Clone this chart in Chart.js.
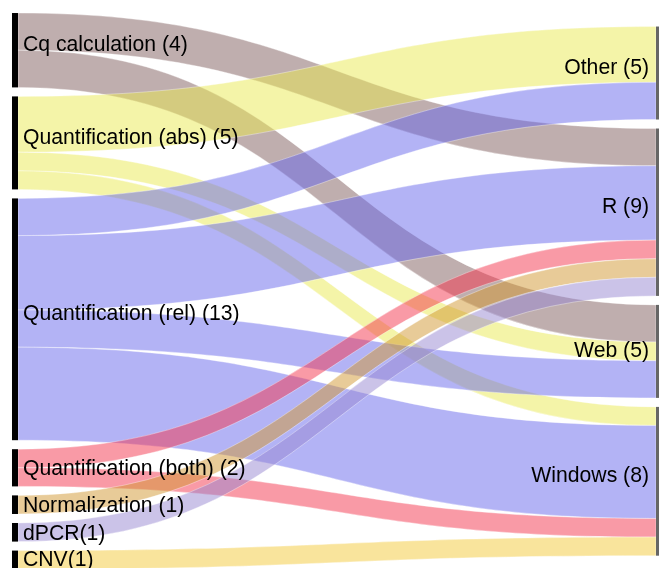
<!DOCTYPE html>
<html>
<head>
<meta charset="utf-8">
<script src="https://cdn.jsdelivr.net/npm/chart.js@4"></script>
<style>
html, body { margin: 0; padding: 0; background: #fff; }
#wrap { width: 659px; height: 568px; }
</style>
</head>
<body>
<div id="wrap"><canvas id="sankeyChart"></canvas></div>
<script>
// left column (sources) and right column (targets)
const sources = ['Cq calculation (4)', 'Quantification (abs) (5)', 'Quantification (rel) (13)',
    'Quantification (both) (2)', 'Normalization (1)', 'dPCR(1)', 'CNV(1)'];
const targets = ['Other (5)', 'R (9)', 'Web (5)', 'Windows (8)'];

// flow values, one entry per source, in the order of `sources`
const toOther   = [0, 3, 2, 0, 0, 0, 0];
const toR       = [2, 0, 4, 1, 1, 1, 0];
const toWeb     = [2, 1, 2, 0, 0, 0, 0];
const toWindows = [0, 1, 5, 1, 0, 0, 1];
const flows = [toOther, toR, toWeb, toWindows];

const linkColors = [
    'rgba(127, 93, 93, 0.5)',
    'rgba(233, 233, 81, 0.5)',
    'rgba(103, 103, 235, 0.5)',
    'rgba(243, 53, 77, 0.5)',
    'rgba(209, 151, 49, 0.5)',
    'rgba(151, 135, 209, 0.5)',
    'rgba(243, 201, 57, 0.5)'
];

// some labels sit a little lower than their node's centre
const labelNudge = { 'Quantification (both) (2)': 7, 'Normalization (1)': 7, 'dPCR(1)': 7.5, 'CNV(1)': 6, 'Web (5)': 6 };

const nodeGap = 0.484;
const topOffset = 0.7;

// --- layout (in value units) ---
const srcTotals = sources.map((_, i) => flows.reduce((s, f) => s + f[i], 0));
const tgtTotals = flows.map(f => f.reduce((s, v) => s + v, 0));
const span = arr => arr.reduce((s, v) => s + v, 0) + (arr.length - 1) * nodeGap;

function stack(totals, start) {
    let y = start;
    return totals.map(t => {
        const n = { y0: y, y1: y + t };
        y += t + nodeGap;
        return n;
    });
}
const leftNodes = stack(srcTotals, topOffset);
const rightNodes = stack(tgtTotals, topOffset + (span(srcTotals) - span(tgtTotals)) / 2);

// links: source side stacked in target order, target side stacked in source order
const links = [];
const srcUsed = leftNodes.map(n => n.y0);
sources.forEach((_, i) => {
    targets.forEach((_, j) => {
        const v = flows[j][i];
        if (!v) return;
        links.push({ src: i, tgt: j, v: v, s0: srcUsed[i], s1: srcUsed[i] + v });
        srcUsed[i] += v;
    });
});
const tgtUsed = rightNodes.map(n => n.y0);
links.forEach(l => {
    l.t0 = tgtUsed[l.tgt];
    l.t1 = l.t0 + l.v;
    tgtUsed[l.tgt] += l.v;
});

const sankeyPlugin = {
    id: 'sankey',
    afterDraw(chart) {
        const { ctx, scales: { x, y } } = chart;
        const x0 = x.getPixelForValue(0);
        const x1 = x.getPixelForValue(1);
        const xm = (x0 + x1) / 2;
        const nodeW = 6;
        ctx.save();

        links.forEach(l => {
            const a0 = y.getPixelForValue(l.s0), a1 = y.getPixelForValue(l.s1);
            const b0 = y.getPixelForValue(l.t0), b1 = y.getPixelForValue(l.t1);
            ctx.beginPath();
            ctx.moveTo(x0, a0);
            ctx.bezierCurveTo(xm, a0, xm, b0, x1, b0);
            ctx.lineTo(x1, b1);
            ctx.bezierCurveTo(xm, b1, xm, a1, x0, a1);
            ctx.closePath();
            ctx.fillStyle = linkColors[l.src];
            ctx.fill();
            ctx.strokeStyle = 'rgba(255,255,255,0.6)';
            ctx.lineWidth = 0.6;
            ctx.stroke();
        });

        ctx.fillStyle = '#000';
        leftNodes.forEach(n => {
            const p0 = y.getPixelForValue(n.y0), p1 = y.getPixelForValue(n.y1);
            ctx.fillRect(x0 - nodeW, p0, nodeW, p1 - p0);
        });
        ctx.fillStyle = '#666';
        rightNodes.forEach(n => {
            const p0 = y.getPixelForValue(n.y0), p1 = y.getPixelForValue(n.y1);
            ctx.fillRect(x1, p0, nodeW, p1 - p0);
        });

        ctx.font = '21.2px "Liberation Sans", Arial, sans-serif';
        ctx.fillStyle = '#000';
        ctx.textBaseline = 'alphabetic';
        ctx.textAlign = 'left';
        sources.forEach((s, i) => {
            const c = y.getPixelForValue((leftNodes[i].y0 + leftNodes[i].y1) / 2);
            ctx.fillText(s, x0 + 5, c + (labelNudge[s] || 1));
        });
        ctx.textAlign = 'right';
        targets.forEach((t, j) => {
            const c = y.getPixelForValue((rightNodes[j].y0 + rightNodes[j].y1) / 2);
            ctx.fillText(t, x1 - 7, c + (labelNudge[t] || 1));
        });
        ctx.restore();
    }
};

new Chart(document.getElementById('sankeyChart'), {
    type: 'scatter',
    data: { datasets: [] },
    options: {
        responsive: true,
        maintainAspectRatio: false,
        animation: false,
        layout: { padding: 0 },
        plugins: { legend: { display: false }, tooltip: { enabled: false } },
        scales: {
            x: { type: 'linear', display: false, min: -0.0282, max: 1.0047 },
            y: { type: 'linear', display: false, reverse: true, min: 0, max: 30.54 }
        }
    },
    plugins: [sankeyPlugin]
});
</script>
</body>
</html>
